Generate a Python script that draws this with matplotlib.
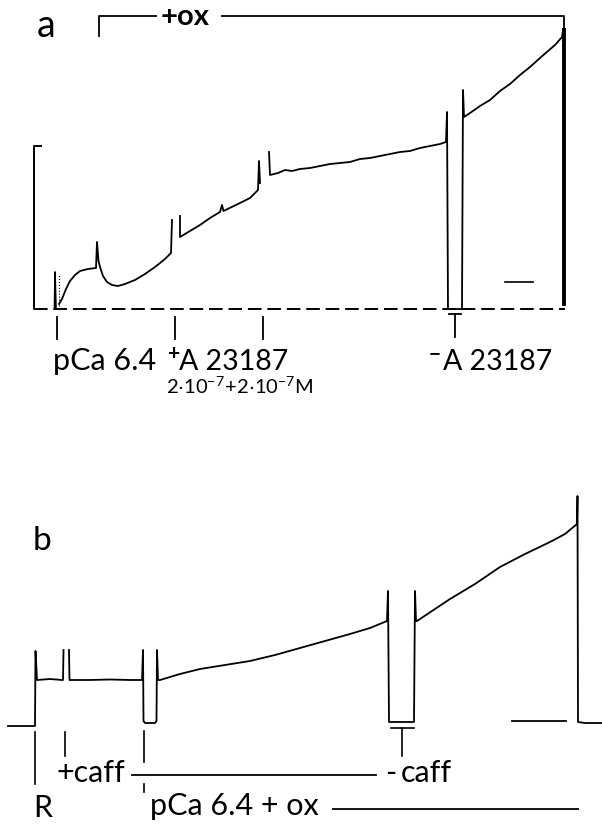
import numpy as np
import matplotlib.pyplot as plt

plt.rcParams['font.family'] = ['Lato', 'DejaVu Sans']
plt.rcParams['mathtext.fontset'] = 'custom'
plt.rcParams['mathtext.rm'] = 'Lato'

nan = np.nan

# panel a: force trace (time, force); NaN marks a pen lift
a_time = [59, 62, 66, 70, 75, 80, 88, 96, 97, 98.5, 100, 103, 107, 112, 118, 125,
          135, 145, 155, 165, 171, 172, nan,
          180, 180, 190, 200, 210, 220, 222, 223.5, 240, 250, 258, 259, 260, nan,
          269, 270, 278, 285, 292, 300, 310, 320, 330, 340, 350, 360, 370, 380,
          390, 400, 410, 420, 430, 440, 446, 447, 448, 462, 463, 464,
          470, 480, 490, 500, 510, 520, 530, 540, 548, 555, 562, 563]
a_force = [5, 10, 20, 28, 34, 38, 40, 41, 67, 48, 42, 33, 27, 24, 23, 25,
           29, 35, 42, 50, 56, 89, nan,
           93, 72, 78, 84, 91, 97, 104, 98, 106, 111, 119, 148, 126, nan,
           157, 134, 136, 139, 138, 140, 141, 143, 145, 146, 147, 150, 151, 153,
           155, 157, 158, 161, 163, 165, 167, 197, 0, 0, 219, 192,
           196, 203, 209, 218, 225, 234, 242, 251, 258, 264, 272, 279]
a_end_time = 563.5
a_end_force = (279, 5)
a_events = [57, 175, 263]
a_washout = 455

# panel b: force trace
b_time = [8, 35, 35.5, 37, 50, 62, 63, 63.5, nan,
          69, 69.5, 90, 110, 130, 142, 143, 143.5, 145, 155, 156.5, 157, 158,
          160, 180, 200, 225, 250, 275, 300, 325, 350, 370, 387, 388, 389,
          414, 415, 416, 417, 450, 475, 500, 525, 550, 565, 577, 577.5, 578,
          585, 602]
b_force = [0, 0, 75, 46, 47, 46, 46, 76, nan,
           76, 46, 46, 46.5, 46, 46, 76, 5, 3, 3, 5, 76, 46,
           46, 52, 57, 61, 65, 71, 78, 85, 92, 98, 105, 135, 4,
           4, 135, 105, 105, 127, 142, 159, 172, 184, 192, 202, 230, 4,
           3, 3]
b_events = [35, 65, 144]
b_washout = 402

fig = plt.figure(figsize=(6.02, 8.28), dpi=100)
W, H = 602, 828

def panel(top, bottom, f_top):
    ax = fig.add_axes([0, 1 - bottom / H, 1, (bottom - top) / H])
    ax.set_xlim(0, W)
    ax.set_ylim(f_top - (bottom - top), f_top)
    ax.axis('off')
    return ax

txt = dict(fontsize=22, va='baseline', ha='left', color='black')
k = dict(color='black', lw=1.3)

# ---- panel a ----
ax = panel(0, 400, 310)
ax.plot(a_time, a_force, **k)
ax.plot([54.5, 55, 56], [0, 37, 0], color='black', lw=1.2)
ax.plot([59, 59], [0, 35], color='black', lw=0.8, ls=':')
ax.plot([a_end_time] * 2, a_end_force, color='black', lw=2.8)
ax.plot([34, 565], [0, 0], color='black', lw=1.4, ls=(0, (7, 3)))
ax.plot([41, 34, 34, 41], [163, 163, 0, 0], color='black', lw=1.4)
ax.plot([505, 533], [27, 27], color='black', lw=1.2)
# oxalate bracket
ax.plot([99, 99, 156], [273, 293, 293], **k)
ax.plot([222, 564, 564], [293, 293, 277], **k)
ax.text(161, 285, '+ox', fontsize=21, fontweight='bold', va='baseline', ha='left')
ax.text(37, 273, 'a', fontsize=27, va='baseline', ha='left')
for x in a_events:
    ax.plot([x, x], [-8, -30], **k)
ax.plot([a_washout - 6, a_washout + 6], [-5, -5], **k)
ax.plot([a_washout, a_washout], [-5, -28], **k)
ax.text(53, -60, 'pCa 6.4', **txt)
ax.text(168, -44, '+', fontsize=15, fontweight='bold', va='center', ha='left')
ax.text(179, -60, 'A 23187', fontsize=20.5, va='baseline', ha='left')
ax.text(166, -84, r'$\mathregular{2{\cdot}10^{-7}\!+\!2{\cdot}10^{-7}M}$',
        fontsize=14.5, va='baseline', ha='left')
ax.text(429, -44, '−', fontsize=15, fontweight='bold', va='center', ha='left')
ax.text(443, -60, 'A 23187', fontsize=20.5, va='baseline', ha='left')

# ---- panel b ----
ax = panel(420, 828, 307)
ax.plot(b_time, b_force, **k)
ax.plot([512, 566], [5, 5], **k)
ax.text(33, 177, 'b', fontsize=24, va='baseline', ha='left')
ax.plot([b_events[0]] * 2, [-6, -58], color='black', lw=1.2)
ax.plot([b_events[1]] * 2, [-6, -30], color='black', lw=1.2)
ax.plot([b_events[2]] * 2, [-5, -36], color='black', lw=1.2)
ax.plot([b_events[2]] * 2, [-58, -66], color='black', lw=1.2)
ax.plot([b_washout - 11, b_washout + 12], [-2, -2], color='black', lw=1.2)
ax.plot([b_washout, b_washout], [-2, -30], color='black', lw=1.2)
ax.plot([132, 376], [-49, -49], **k)
ax.plot([333, 578], [-83, -83], **k)
ax.text(33, -90, 'R', **txt)
ax.text(57, -55, '+caff', **txt)
ax.text(385, -55, '-', **txt)
ax.text(401, -55, 'caff', **txt)
ax.text(150, -88, 'pCa 6.4 + ox', **txt)

fig.savefig('out.png', dpi=100, facecolor='white')
